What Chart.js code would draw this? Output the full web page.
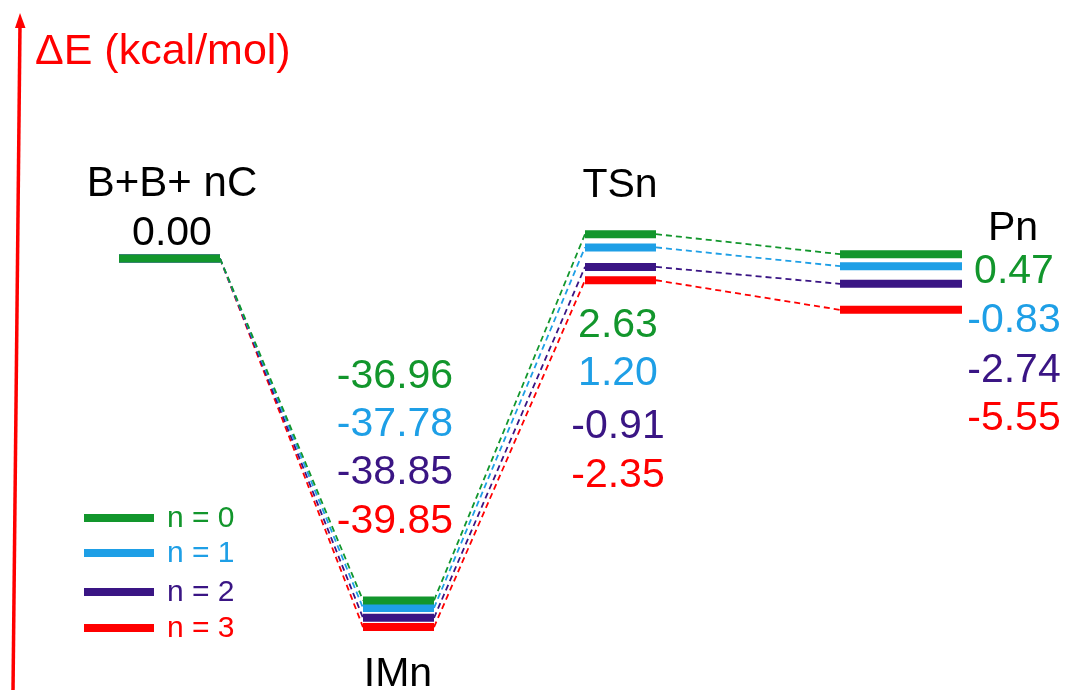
<!DOCTYPE html>
<html>
<head>
<meta charset="utf-8">
<script src="https://cdn.jsdelivr.net/npm/chart.js@4.4.1/dist/chart.umd.min.js"></script>
<style>
  html, body { margin: 0; padding: 0; background: #ffffff; }
  #wrap { width: 1065px; height: 690px; position: relative; }
</style>
</head>
<body>
<div id="wrap"><canvas id="c" width="1065" height="690"></canvas></div>
<script>
// ---- data ----
const stageLabels = ['B+B+ nC', 'IMn', 'TSn', 'Pn'];
const seriesLabels = ['n = 0', 'n = 1', 'n = 2', 'n = 3'];
const energyReactant = [0.00, 0.00, 0.00, 0.00];
const energyIM = [-36.96, -37.78, -38.85, -39.85];
const energyTS = [2.63, 1.20, -0.91, -2.35];
const energyP = [0.47, -0.83, -2.74, -5.55];
const axisTitle = 'ΔE (kcal/mol)';

// ---- layout / style ----
const seriesColors = ['#12962c', '#1e9fe6', '#3a1584', '#ff0000'];
const stageX = [[119, 220], [363, 434], [585, 656], [840, 962]];
const FONT = '"Liberation Sans", Arial, sans-serif';

const levelsPerStage = [energyReactant, energyIM, energyTS, energyP];

const datasets = [];
// level bars
seriesLabels.forEach((lab, s) => {
  const pts = [];
  levelsPerStage.forEach((arr, k) => {
    if (k > 0) pts.push({ x: (stageX[k - 1][1] + stageX[k][0]) / 2, y: null });
    pts.push({ x: stageX[k][0], y: arr[s] });
    pts.push({ x: stageX[k][1], y: arr[s] });
  });
  datasets.push({
    label: lab, data: pts, showLine: true, spanGaps: false,
    borderColor: seriesColors[s], borderWidth: 8, borderCapStyle: 'butt',
    pointRadius: 0, order: 1, clip: false
  });
});
// dashed connectors
seriesLabels.forEach((lab, s) => {
  const pts = [];
  for (let k = 0; k < levelsPerStage.length - 1; k++) {
    if (k > 0) pts.push({ x: stageX[k][0] + 5, y: null });
    pts.push({ x: stageX[k][1], y: levelsPerStage[k][s] });
    pts.push({ x: stageX[k + 1][0], y: levelsPerStage[k + 1][s] });
  }
  datasets.push({
    label: lab + ' link', data: pts, showLine: true, spanGaps: false,
    borderColor: seriesColors[s], borderWidth: 1.8, borderDash: [6, 4],
    pointRadius: 0, order: 2, clip: false
  });
});

const textPlugin = {
  id: 'diagramText',
  afterDraw(chart) {
    const ctx = chart.ctx;
    ctx.save();
    // axis arrow
    ctx.strokeStyle = '#ff0000';
    ctx.fillStyle = '#ff0000';
    ctx.lineWidth = 3.5;
    ctx.beginPath();
    ctx.moveTo(13, 692);
    ctx.lineTo(20, 24);
    ctx.stroke();
    ctx.beginPath();
    ctx.moveTo(20, 13);
    ctx.lineTo(15, 28);
    ctx.lineTo(25.5, 28);
    ctx.closePath();
    ctx.fill();
    // axis title
    ctx.textBaseline = 'alphabetic';
    ctx.textAlign = 'left';
    ctx.font = '43px ' + FONT;
    ctx.fillText(axisTitle, 35, 64);

    // stage labels
    ctx.fillStyle = '#000000';
    ctx.textAlign = 'center';
    ctx.font = '42px ' + FONT;
    ctx.fillText(stageLabels[0], 172, 196);
    ctx.font = '41px ' + FONT;
    ctx.fillText(energyReactant[0].toFixed(2), 172, 245);
    ctx.fillText(stageLabels[1], 398, 686);
    ctx.fillText(stageLabels[2], 620, 197);
    ctx.fillText(stageLabels[3], 1013, 240);

    // value labels
    const imBase = [388, 436, 484, 533];
    const tsBase = [337, 385, 438, 487];
    const pBase = [283, 332, 382, 430];
    ctx.font = '41px ' + FONT;
    for (let s = 0; s < seriesLabels.length; s++) {
      ctx.fillStyle = seriesColors[s];
      ctx.textAlign = 'center';
      ctx.fillText(energyIM[s].toFixed(2), 395, imBase[s]);
      ctx.fillText(energyTS[s].toFixed(2), 618, tsBase[s]);
      ctx.fillText(energyP[s].toFixed(2), 1014, pBase[s]);
    }

    // legend
    const legY = [518, 553, 592, 628];
    ctx.font = '30px ' + FONT;
    ctx.textAlign = 'left';
    ctx.textBaseline = 'middle';
    for (let s = 0; s < seriesLabels.length; s++) {
      ctx.strokeStyle = seriesColors[s];
      ctx.fillStyle = seriesColors[s];
      ctx.lineWidth = 8;
      ctx.lineCap = 'butt';
      ctx.beginPath();
      ctx.moveTo(84, legY[s]);
      ctx.lineTo(154, legY[s]);
      ctx.stroke();
      ctx.fillText(seriesLabels[s], 167, legY[s] + 1);
    }
    ctx.restore();
  }
};

const PX_PER_UNIT = 9.25, ZERO_Y = 258.5, H = 690;
new Chart(document.getElementById('c'), {
  type: 'scatter',
  data: { datasets },
  options: {
    responsive: false,
    animation: false,
    layout: { padding: 0 },
    plugins: { legend: { display: false }, tooltip: { enabled: false } },
    scales: {
      x: { type: 'linear', min: 0, max: 1065, display: false },
      y: { type: 'linear', min: -(H - ZERO_Y) / PX_PER_UNIT, max: ZERO_Y / PX_PER_UNIT, display: false }
    }
  },
  plugins: [textPlugin]
});
</script>
</body>
</html>
